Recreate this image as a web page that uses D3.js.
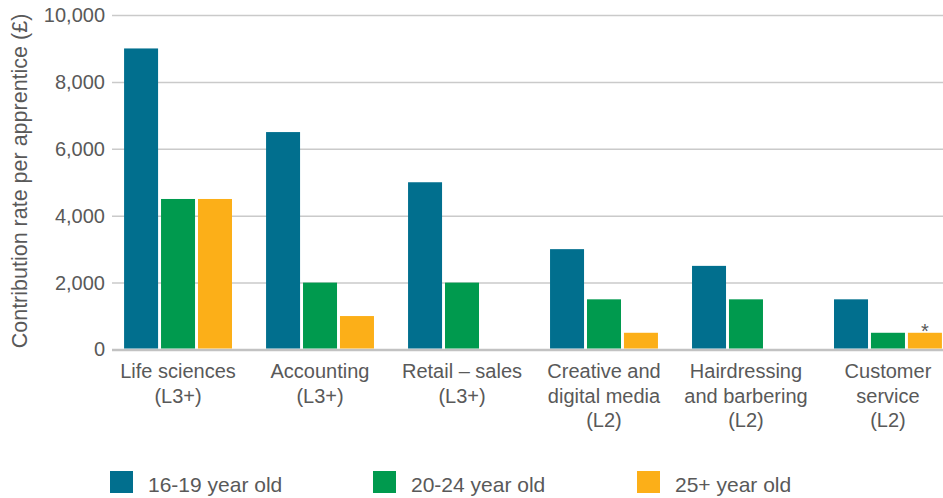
<!DOCTYPE html>
<html>
<head>
<meta charset="utf-8">
<script src="https://cdn.jsdelivr.net/npm/d3@7"></script>
<style>
  body { margin: 0; background: #fff; }
  svg text { font-family: "Liberation Sans", Arial, sans-serif; fill: #595959; }
</style>
</head>
<body>
<div id="chart-area"></div>
<script>
// categories + values
var categories = [
	["Life sciences", "(L3+)"],
	["Accounting", "(L3+)"],
	["Retail \u2013 sales", "(L3+)"],
	["Creative and", "digital media", "(L2)"],
	["Hairdressing", "and barbering", "(L2)"],
	["Customer", "service", "(L2)"]
];
var age16_19 = [9000, 6500, 5000, 3000, 2500, 1500];
var age20_24 = [4500, 2000, 2000, 1500, 1500, 500];
var age25plus = [4500, 1000, null, 500, null, 500];
var seriesNames = ["16-19 year old", "20-24 year old", "25+ year old"];
var colours = ["#016f8e", "#009a4e", "#fcaf18"];
var yTicks = [0, 2000, 4000, 6000, 8000, 10000];

var width = 943, height = 498;

var svg = d3.select("#chart-area").append("svg")
	.attr("width", width)
	.attr("height", height);

var y = d3.scaleLinear().domain([0, 10000]).range([349.5, 15]);

var x0 = d3.scaleBand()
	.domain(d3.range(categories.length))
	.range([90, 976])
	.padding(0.24);

var x1 = d3.scaleBand()
	.domain(d3.range(3))
	.range([0, x0.bandwidth()])
	.paddingInner(0.08);

// gridlines
var yAxis = d3.axisLeft(y)
	.tickValues(yTicks)
	.tickSize(-(width - 112))
	.tickFormat(d3.format(","))
	.tickPadding(7);

var gy = svg.append("g")
	.attr("transform", "translate(112,0)")
	.call(yAxis);
gy.select(".domain").remove();
gy.selectAll(".tick line")
	.attr("stroke-width", function(d){ return d === 0 ? 2.5 : 1.5; })
	.attr("stroke", function(d){ return d === 0 ? "#c2c2c2" : "#cacaca"; });
gy.selectAll(".tick text")
	.attr("font-size", 20)
	.attr("fill", "#595959");

// y title
svg.append("text")
	.attr("transform", "translate(27,181) rotate(-90)")
	.attr("text-anchor", "middle")
	.attr("font-size", 21.5)
	.text("Contribution rate per apprentice (\u00a3)");

// bars
var series = [age16_19, age20_24, age25plus];
var groups = svg.selectAll("g.cat")
	.data(categories)
	.enter().append("g")
	.attr("class", "cat")
	.attr("transform", function(d, i){ return "translate(" + x0(i) + ",0)"; });

groups.selectAll("rect")
	.data(function(d, i){
		return series.map(function(s, k){ return {k: k, v: s[i]}; })
			.filter(function(e){ return e.v != null; });
	})
	.enter().append("rect")
	.attr("x", function(d){ return x1(d.k); })
	.attr("width", x1.bandwidth())
	.attr("y", function(d){ return y(d.v); })
	.attr("height", function(d){ return y(0) - y(d.v) - 1; })
	.attr("fill", function(d){ return colours[d.k]; });

// category labels
groups.append("text")
	.attr("text-anchor", "middle")
	.attr("font-size", 20)
	.attr("x", x0.bandwidth() / 2)
	.attr("y", 378)
	.selectAll("tspan")
	.data(function(d){ return d; })
	.enter().append("tspan")
	.attr("x", x0.bandwidth() / 2)
	.attr("dy", function(d, i){ return i === 0 ? 0 : 24.5; })
	.text(function(d){ return d; });

// asterisk on last orange bar
var last = categories.length - 1;
svg.append("text")
	.attr("x", x0(last) + x1(2) + x1.bandwidth() / 2)
	.attr("y", y(age25plus[last]) + 5)
	.attr("text-anchor", "middle")
	.attr("font-size", 20)
	.attr("fill", "#777")
	.text("*");

// legend
var legendX = [110, 373, 637];
var legend = svg.selectAll("g.legend")
	.data(seriesNames)
	.enter().append("g")
	.attr("class", "legend")
	.attr("transform", function(d, i){ return "translate(" + legendX[i] + ",471)"; });

legend.append("rect")
	.attr("width", 23)
	.attr("height", 22)
	.attr("fill", function(d, i){ return colours[i]; });

legend.append("text")
	.attr("x", 38)
	.attr("y", 21)
	.attr("font-size", 21)
	.text(function(d){ return d; });
</script>
</body>
</html>
